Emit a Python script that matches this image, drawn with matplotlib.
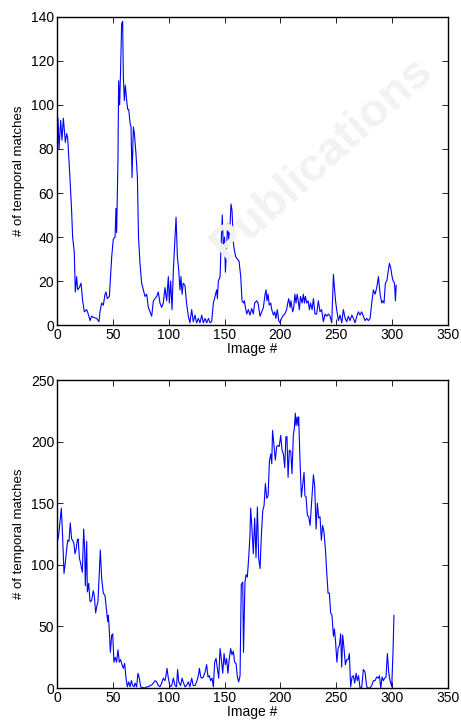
import matplotlib
matplotlib.use('Agg')
import matplotlib.pyplot as plt

plt.rcParams['font.family'] = ['Liberation Sans', 'DejaVu Sans']

# upper panel: temporal matches per image
top_x = [0, 0.9, 1.8, 3.3, 4.5, 5.7, 7.5, 8.7, 9.6, 11.6, 13.1, 14, 15.5, 16.4, 17.6, 18.5, 20, 21.5, 23, 24.5,
         26.6, 28, 29.6, 31, 32.5, 35.5, 37.6, 38.5, 40, 41.5, 43, 43.9, 45, 46.9, 49, 50.4, 52, 52.8, 53.4, 54.6,
         55.2, 56.1, 57, 57.9, 58.8, 59.4, 60.3, 61.2, 62.4, 63.3, 64.2, 65.4, 66.3, 67.2, 68.4, 69.3, 70.7, 72, 73, 74.3,
         75.8, 77.3, 78.8, 80.3, 81.8, 83.3, 84.8, 86.3, 87.8, 89.3, 90.7, 92.2, 93.7, 95.2, 96.7, 98.2, 99.7, 100.6, 101.8, 103,
         104.2, 105.4, 106.6, 107.8, 109, 110.1, 111, 112, 113, 114.6, 116, 117.6, 119, 120.6, 122, 123.6, 125, 126.6, 128, 129.6,
         131, 132.6, 134, 135.6, 137, 138.5, 140, 141.5, 143, 143.6, 144.5, 146, 147, 148, 149, 150, 150.8, 152, 152.8, 153.7,
         155, 155.8, 156.7, 158, 158.8, 160, 161.5, 163, 164.5, 165.7, 167, 167.8, 168.7, 169.9, 171.3, 172.8, 174.3, 175.8, 177, 178.8,
         180, 181.8, 183.3, 184.8, 186.3, 187.2, 188, 189, 190, 191.4, 192.3, 193.8, 195, 196, 197.3, 198.5, 199.7, 201, 202.7, 204,
         205.6, 206.6, 207.5, 208.7, 209.5, 211, 212, 213, 214, 215, 216, 217, 218, 219.4, 220.6, 221.5, 222.4, 223.6, 224.8, 226,
         227, 228.4, 229.6, 231, 232.5, 234, 235.5, 237, 238.5, 240, 241.5, 243, 244.5, 246, 247.5, 248.4, 249.4, 250.4, 252, 253.4,
         255, 256.4, 258, 259.4, 260.9, 262.4, 264, 265.4, 266.9, 268.4, 269.9, 271.3, 272.8, 274.3, 275.8, 277.3, 278.8, 280.3, 281.8, 283.3,
         284.8, 286.3, 287.8, 289.3, 290.8, 291.7, 292.8, 294, 295.3, 296.7, 297.6, 298.8, 300, 301, 302.2, 303, 303.7]
top_y = [88, 94, 80, 93, 84, 94, 83, 87, 85, 67, 52, 40, 33, 15, 22, 16, 17, 19, 11, 6,
         7, 5, 2, 4, 3.5, 3, 1.5, 6, 10, 9, 14, 15, 12, 13, 31, 39, 40, 53, 42, 75,
         111, 100, 117, 137, 138, 113, 102, 109, 102, 98, 98, 92, 90, 67, 90, 87, 78, 67, 40, 28,
         19, 16, 13, 14, 8, 6, 4, 11, 12, 13, 15, 10, 8, 10, 17, 11, 22, 10, 20, 7,
         25, 37, 49, 31, 25, 16, 22, 14, 19, 18, 10, 4, 1, 7, 1.5, 4.5, 1, 3, 1, 4.5,
         1, 3, 1, 3, 1, 1.5, 10, 13, 16, 12, 20, 22, 37, 50, 34, 40, 24, 37, 46, 39,
         46, 55, 52, 37, 34, 31, 30, 29, 22, 11, 10, 11, 8, 5, 7, 4.5, 7.5, 5, 10, 11,
         10, 4, 6, 8, 14, 16, 11, 14, 9, 10, 7, 4.5, 6, 3, 7, 2, 1, 3, 4.5, 5,
         7, 10, 12, 8, 11, 6, 8, 14, 10, 14, 11, 7, 13, 10, 14, 10, 13, 10, 11, 7,
         10, 7, 12, 5, 5, 11, 6, 7, 1.5, 5, 4, 5, 4, 1, 23, 17, 11, 7, 2, 4.5,
         1, 7, 3, 1.5, 4, 2, 4.5, 3, 1, 4, 6, 4.5, 6, 4, 2, 3, 2, 3, 10, 16,
         14, 17, 22, 14, 10, 11, 10, 19, 20, 25, 28, 26, 22, 20, 19, 11, 18]

# lower panel
bot_x = [0, 1.5, 2.7, 3.9, 5, 6.3, 7.5, 8.7, 9.6, 10.7, 11.9, 13.1, 14, 15.2, 16.1, 17, 18.2, 19, 20, 21.2,
         22.7, 23.9, 24.8, 25.4, 26.6, 27.2, 28.4, 29.6, 31, 32.5, 33.4, 34.6, 35.8, 36.7, 37.9, 38.8, 40, 41.5, 43, 44.5,
         45.4, 46, 46.9, 47.8, 49, 49.9, 51, 52.2, 53.4, 54.6, 55.8, 57, 58.2, 59.4, 60.6, 61.8, 63, 64.2, 65.4, 66.6,
         67.8, 69, 70, 71.3, 72.5, 73.7, 75, 76, 78.8, 80.3, 82, 83.3, 84.8, 86.3, 87.8, 89.3, 90.7, 92.2, 93.7, 95.2,
         96.7, 97.6, 98.5, 99.7, 101.2, 102.7, 104.2, 105.7, 107, 108, 109, 110.7, 112, 113, 114.6, 116, 117.6, 119, 120.6, 122,
         123.6, 125, 126.6, 127.5, 128.7, 129.9, 131, 132.6, 134, 135.2, 136.4, 137.6, 138.8, 140, 141.2, 142.4, 143.6, 144.8, 146, 147.2,
         148.4, 149.6, 150.7, 151.9, 153, 154.3, 155.5, 156.7, 157.9, 159, 160.3, 161.5, 162.7, 163.9, 165, 166.3, 167, 168.3, 169.3, 170.4,
         171.6, 172.8, 173.4, 174.6, 175.8, 177, 178.2, 179.4, 180.6, 181.8, 183, 184.2, 185.4, 186.6, 187.8, 189, 190.2, 191.4, 192.3, 193,
         194.3, 195.5, 196.7, 197.9, 199, 200.3, 201.5, 202.7, 203.9, 205, 205.9, 206.9, 208, 209.3, 210.4, 211.6, 212.5, 213.4, 214, 215,
         215.8, 216.4, 217.6, 218.8, 220, 221.2, 222, 223, 224.2, 225.4, 226.6, 228, 229.6, 230.7, 232, 233.1, 234.3, 235.5, 236.7, 237.8,
         239, 240.3, 241.5, 242.7, 243.9, 245, 246.2, 247.5, 248.4, 249.4, 250.6, 251.7, 252.9, 254, 254.9, 255.8, 257, 258.2, 259.4, 260.6,
         261.8, 262.9, 264.2, 265.4, 266.6, 267.8, 268.9, 270, 271.3, 272.8, 274.3, 275.8, 277.3, 278.8, 280.3, 281.8, 283.3, 284.8, 286.3, 287.8,
         288.7, 289.9, 291.1, 292.2, 293.4, 294.6, 295.8, 297, 298.2, 299.7, 300.9, 301.7]
bot_y = [117, 124, 135, 146, 124, 93, 102, 113, 120, 119, 134, 121, 120, 117, 109, 112, 120, 121, 106, 101,
         94, 129, 112, 83, 119, 78, 85, 70, 71, 79, 75, 61, 67, 70, 94, 112, 89, 77, 75, 62,
         54, 59, 46, 29, 43, 44, 21, 25, 21, 31, 21, 23, 19, 16, 20, 8, 1, 5, 1, 6,
         2, 1, 4, 1, 12, 8, 1, 0.5, 0, 1, 1, 2, 2.5, 4, 6, 5, 2, 1, 4, 8,
         6, 10, 16, 8, 1, 2, 8, 2, 1, 15, 5, 2, 8, 5, 1, 2, 5, 1, 8, 2,
         2, 5, 10, 16, 9, 8, 9, 13, 19, 9, 10, 6, 8, 1, 21, 24, 16, 8, 32, 23,
         12, 28, 19, 24, 12, 24, 32, 27, 30, 21, 20, 9, 5, 10, 84, 86, 29, 86, 92, 90,
         105, 124, 146, 129, 109, 138, 106, 147, 105, 97, 124, 144, 148, 166, 154, 156, 184, 190, 182, 209,
         197, 185, 196, 197, 196, 205, 193, 190, 179, 204, 204, 171, 193, 192, 174, 205, 211, 223, 213, 220,
         213, 220, 184, 155, 165, 175, 156, 155, 140, 139, 132, 151, 173, 164, 129, 150, 138, 139, 120, 132,
         127, 113, 94, 77, 77, 61, 59, 42, 48, 38, 21, 32, 35, 44, 17, 43, 32, 19, 23, 23,
         28, 1, 9, 10, 4, 12, 6, 10, 0, 0.5, 15, 13, 1, 0, 0, 2, 6, 6, 9, 8,
         10, 0, 9, 6, 8, 9, 28, 13, 6, 1, 31, 59]

xticks = [0, 50, 100, 150, 200, 250, 300, 350]

fig = plt.figure(figsize=(4.61, 7.2), dpi=100)
fig.patch.set_facecolor('white')

# faint watermark in the background
fig.text(0.70, 0.78, 'Publications', rotation=42, fontsize=34,
         color='#f2f2f2', ha='center', va='center', zorder=0, fontweight='bold')

ax1 = fig.add_axes([0.1236, 0.5486, 0.848, 0.4278])
ax2 = fig.add_axes([0.1236, 0.0444, 0.848, 0.4278])

for ax, xs, ys, ymax, yt in [(ax1, top_x, top_y, 140, range(0, 141, 20)),
                             (ax2, bot_x, bot_y, 250, range(0, 251, 50))]:
    ax.set_facecolor('none')
    ax.plot(xs, ys, color='#0000ff', linewidth=0.8)
    ax.set_xlim(0, 350)
    ax.set_ylim(0, ymax)
    ax.set_xticks(xticks)
    ax.set_yticks(list(yt))
    ax.tick_params(direction='in', top=True, right=True, length=4, width=0.6,
                   labelsize=10, pad=2)
    for s in ax.spines.values():
        s.set_linewidth(1.0)
    ax.set_xlabel('Image #', fontsize=10, labelpad=0)
    ax.set_ylabel('# of temporal matches', fontsize=9.5, labelpad=4)

fig.savefig('out.png', dpi=100)
